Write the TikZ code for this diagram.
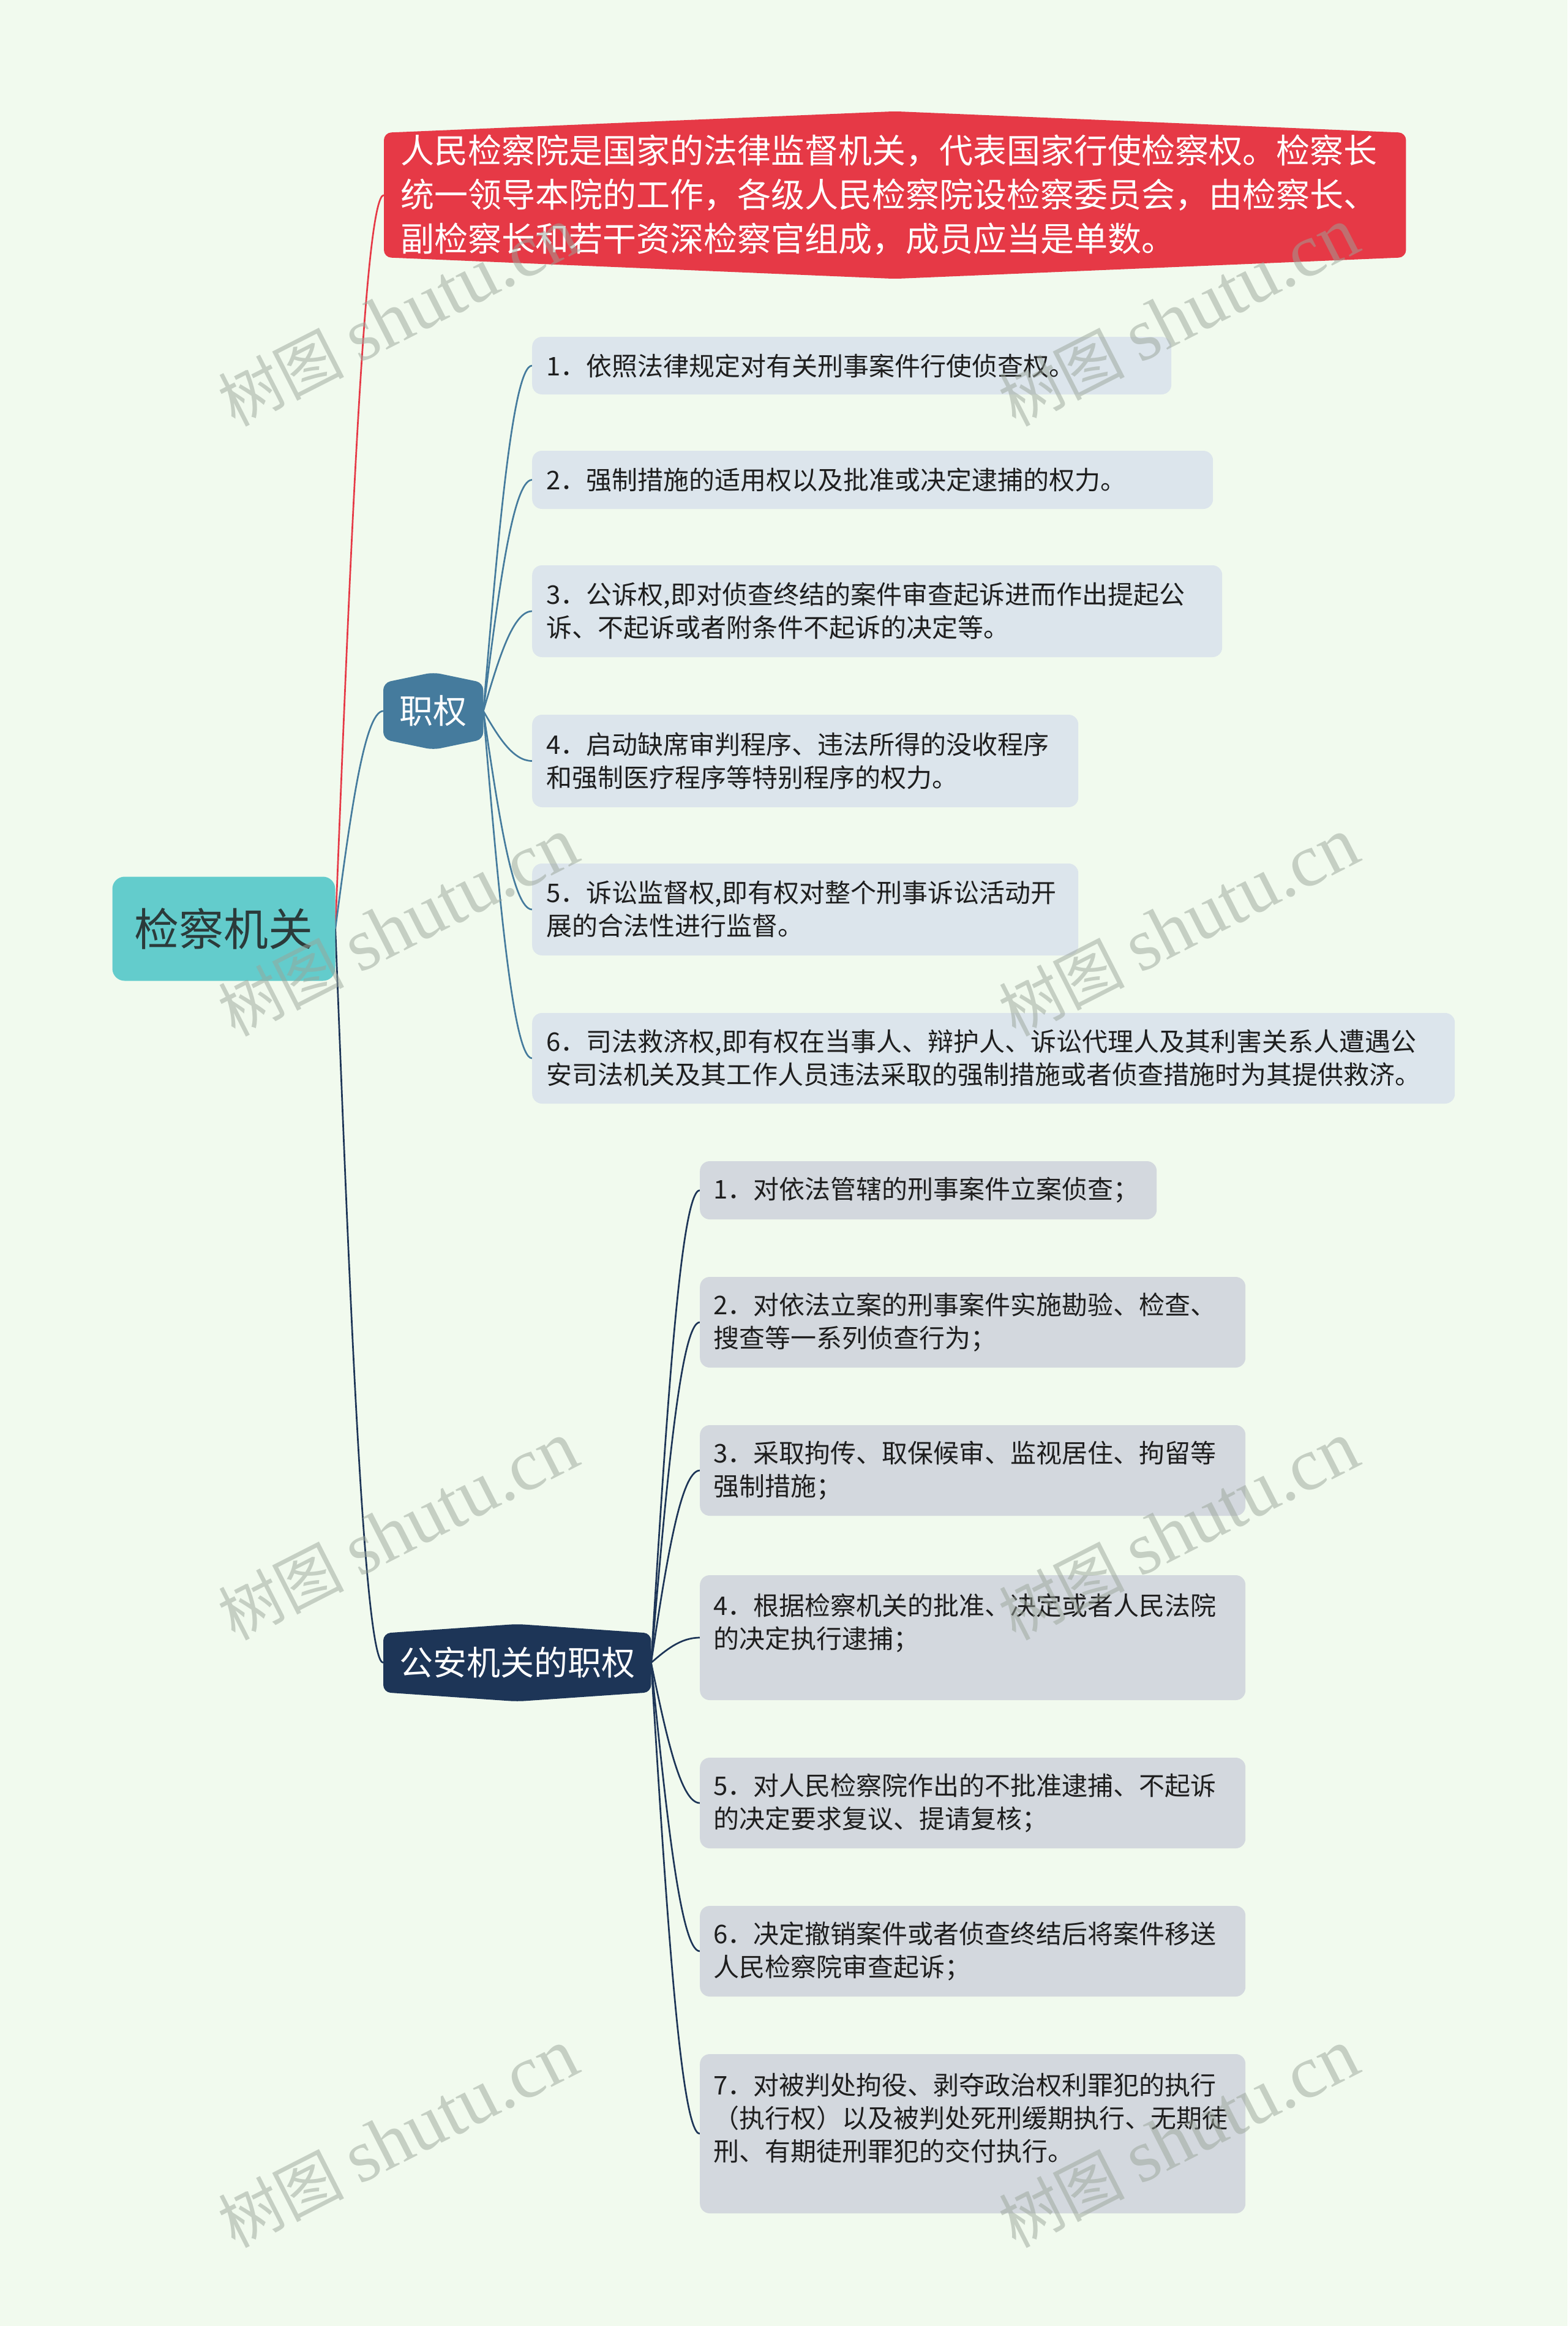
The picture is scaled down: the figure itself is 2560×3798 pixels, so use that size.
\documentclass[tikz,border=0pt]{standalone}
\usepackage{fontspec}
\setmainfont{Noto Sans CJK SC}
\newfontfamily\wmlat{Liberation Serif}
\usetikzlibrary{calc}
\pgfdeclarelayer{back}\pgfdeclarelayer{links}\pgfdeclarelayer{shapes}\pgfdeclarelayer{front}
\pgfsetlayers{back,links,shapes,main,front}
\definecolor{bgc}{HTML}{F1FAEE}
\definecolor{redc}{HTML}{E63946}
\definecolor{steel}{HTML}{457B9D}
\definecolor{navy}{HTML}{1D3557}
\definecolor{rootc}{HTML}{63CCCC}
\definecolor{itemAc}{HTML}{DCE5EC}
\definecolor{itemBc}{HTML}{D3D8DE}
\definecolor{txt}{HTML}{1E1E1E}
\definecolor{roottxt}{HTML}{2B3A3A}
\definecolor{wmc}{HTML}{9AA59A}
\newcommand\mmlink[3]{%
  \draw[#1, linkline] let \p1=(#2), \p2=(#3) in (\p1) .. controls ({\x1+0.3*(\x2-\x1)},{\y1+0.5*(\y2-\y1)}) and ({\x2-0.4*(\x2-\x1)},\y2) .. (\p2);}
\newcommand\hexfill[3]{%
  \begin{pgfonlayer}{shapes}
  \fill[#3, rounded corners=12pt] (#1.west) -- (#1.north west) -- ([yshift=#2]#1.north) -- (#1.north east) -- (#1.south east) -- ([yshift=-#2]#1.south) -- (#1.south west) -- cycle;
  \end{pgfonlayer}}
\newcommand\wmtext{树图 {\wmlat\fontsize{122}{130}\selectfont shutu.cn}}
\begin{document}
\begin{tikzpicture}[x=1pt,y=-1pt,
  itembox/.style={anchor=west, rounded corners=16pt, text=txt, align=left, inner xsep=23pt, inner ysep=0pt, font=\fontsize{42}{54}\selectfont},
  itemz/.style={itembox, fill=itemAc},
  itemg/.style={itembox, fill=itemBc, inner xsep=22pt},
  hexnode/.style={anchor=west, inner sep=0pt, text=white},
  linkline/.style={line width=2.7pt},
  wm/.style={text=wmc, opacity=0.5, rotate=27, font=\fontsize{103}{110}\selectfont, inner sep=0pt},
]
\begin{pgfonlayer}{back}
\fill[bgc] (0,0) rectangle (2560,3798);
\end{pgfonlayer}
\useasboundingbox (0,0) rectangle (2560,3798);

% root
\node[fill=rootc, rounded corners=20pt, minimum width=364pt, minimum height=170pt, inner sep=0pt, text=roottxt, font=\fontsize{73}{80}\selectfont] (root) at (365.5,1516.5) {检察机关};

% red node
\node[hexnode, text width=1615pt, align=left, inner xsep=27pt, minimum height=203pt, font=\fontsize{55}{72}\selectfont] (red) at (627,318.5) {人民检察院是国家的法律监督机关，代表国家行使检察权。检察长\\统一领导本院的工作，各级人民检察院设检察委员会，由检察长、\\副检察长和若干资深检察官组成，成员应当是单数。};
\hexfill{red}{35pt}{redc}

% zhiquan
\node[hexnode, minimum width=163pt, minimum height=92pt, font=\fontsize{55}{60}\selectfont] (zq) at (626,1161) {职权};
\hexfill{zq}{17pt}{steel}

\node[itemz, text width=998pt, minimum height=94pt] (z1) at (869,597) {1．依照法律规定对有关刑事案件行使侦查权。};
\node[itemz, text width=1066pt, minimum height=95pt] (z2) at (869,783.5) {2．强制措施的适用权以及批准或决定逮捕的权力。};
\node[itemz, text width=1081pt, minimum height=150pt] (z3) at (869,998) {3．公诉权,即对侦查终结的案件审查起诉进而作出提起公\\诉、不起诉或者附条件不起诉的决定等。};
\node[itemz, text width=846pt, minimum height=151pt] (z4) at (869,1242.5) {4．启动缺席审判程序、违法所得的没收程序\\和强制医疗程序等特别程序的权力。};
\node[itemz, text width=846pt, minimum height=150pt] (z5) at (869,1485) {5．诉讼监督权,即有权对整个刑事诉讼活动开\\展的合法性进行监督。};
\node[itemz, text width=1461pt, minimum height=148pt] (z6) at (869,1728) {6．司法救济权,即有权在当事人、辩护人、诉讼代理人及其利害关系人遭遇公\\安司法机关及其工作人员违法采取的强制措施或者侦查措施时为其提供救济。};

% gongan
\node[hexnode, minimum width=437pt, minimum height=96pt, font=\fontsize{55}{60}\selectfont] (gq) at (626,2715) {公安机关的职权};
\hexfill{gq}{15pt}{navy}

\node[itemg, text width=702pt, minimum height=95pt] (g1) at (1143,1943.5) {1．对依法管辖的刑事案件立案侦查；};
\node[itemg, text width=847pt, minimum height=148pt] (g2) at (1143,2159) {2．对依法立案的刑事案件实施勘验、检查、\\搜查等一系列侦查行为；};
\node[itemg, text width=847pt, minimum height=148pt] (g3) at (1143,2401) {3．采取拘传、取保候审、监视居住、拘留等\\强制措施；};
\node[itemg, text width=847pt, minimum height=204pt] (g4) at (1143,2674) {4．根据检察机关的批准、决定或者人民法院\\的决定执行逮捕；\\\mbox{}};
\node[itemg, text width=847pt, minimum height=148pt] (g5) at (1143,2944) {5．对人民检察院作出的不批准逮捕、不起诉\\的决定要求复议、提请复核；};
\node[itemg, text width=847pt, minimum height=148pt] (g6) at (1143,3186) {6．决定撤销案件或者侦查终结后将案件移送\\人民检察院审查起诉；};
\node[itemg, text width=847pt, minimum height=260pt] (g7) at (1143,3484) {7．对被判处拘役、剥夺政治权利罪犯的执行\\（执行权）以及被判处死刑缓期执行、无期徒\\刑、有期徒刑罪犯的交付执行。\\\mbox{}};

% links
\begin{pgfonlayer}{links}
\mmlink{redc}{root.east}{red.west}
\mmlink{steel}{root.east}{zq.west}
\mmlink{navy}{root.east}{gq.west}
\foreach \i in {1,...,6}{\mmlink{steel}{zq.east}{z\i.west}}
\foreach \i in {1,...,7}{\mmlink{navy}{gq.east}{g\i.west}}
\end{pgfonlayer}

% watermarks
\begin{pgfonlayer}{front}
\node[wm] (w1) at (650,518) {\wmtext};
\node[wm] (w2) at (1925,518) {\wmtext};
\node[wm] (w3) at (650,1514) {\wmtext};
\node[wm] (w4) at (1925,1514) {\wmtext};
\node[wm] (w5) at (650,2500) {\wmtext};
\node[wm] (w6) at (1925,2500) {\wmtext};
\node[wm] (w7) at (650,3492) {\wmtext};
\node[wm] (w8) at (1925,3492) {\wmtext};
\end{pgfonlayer}
\end{tikzpicture}
\end{document}
